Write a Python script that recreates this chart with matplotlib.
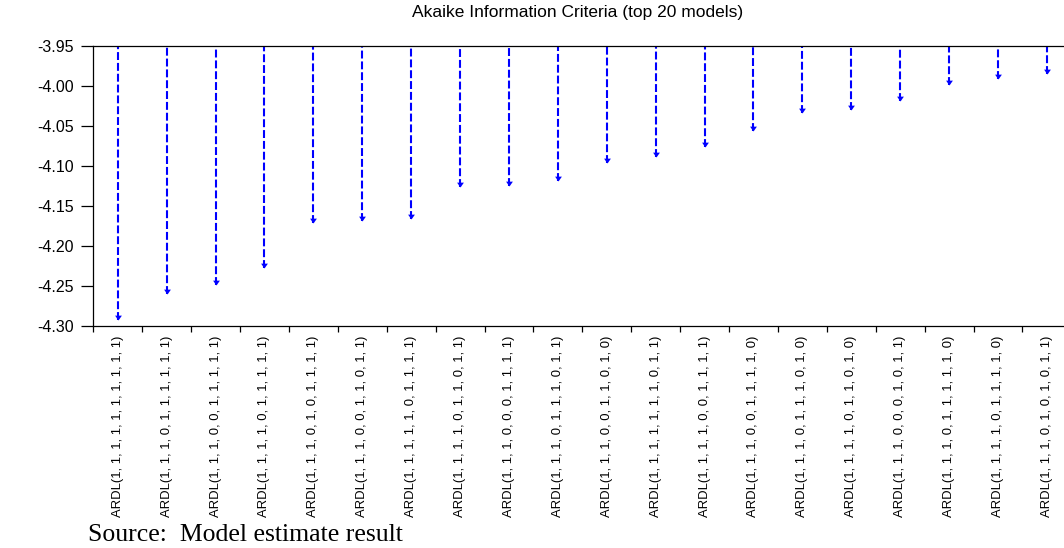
import matplotlib
matplotlib.use("Agg")
import matplotlib.pyplot as plt
from matplotlib import font_manager
from matplotlib.path import Path
from matplotlib.ticker import FixedLocator, FormatStrFormatter

# top 20 ARDL specifications and their AIC
models = [
    "ARDL(1, 1, 1, 1, 1, 1, 1, 1, 1, 1)",
    "ARDL(1, 1, 1, 0, 1, 1, 1, 1, 1, 1)",
    "ARDL(1, 1, 1, 0, 0, 1, 1, 1, 1, 1)",
    "ARDL(1, 1, 1, 1, 0, 1, 1, 1, 1, 1)",
    "ARDL(1, 1, 1, 0, 1, 0, 1, 1, 1, 1)",
    "ARDL(1, 1, 1, 0, 0, 1, 1, 0, 1, 1)",
    "ARDL(1, 1, 1, 1, 1, 0, 1, 1, 1, 1)",
    "ARDL(1, 1, 1, 1, 0, 1, 1, 0, 1, 1)",
    "ARDL(1, 1, 1, 0, 0, 0, 1, 1, 1, 1)",
    "ARDL(1, 1, 1, 0, 1, 1, 1, 0, 1, 1)",
    "ARDL(1, 1, 1, 0, 0, 1, 1, 0, 1, 0)",
    "ARDL(1, 1, 1, 1, 1, 1, 1, 0, 1, 1)",
    "ARDL(1, 1, 1, 1, 0, 0, 1, 1, 1, 1)",
    "ARDL(1, 1, 1, 0, 0, 1, 1, 1, 1, 0)",
    "ARDL(1, 1, 1, 0, 1, 1, 1, 0, 1, 0)",
    "ARDL(1, 1, 1, 1, 0, 1, 1, 0, 1, 0)",
    "ARDL(1, 1, 1, 0, 0, 0, 1, 0, 1, 1)",
    "ARDL(1, 1, 1, 0, 1, 1, 1, 1, 1, 0)",
    "ARDL(1, 1, 1, 1, 0, 1, 1, 1, 1, 0)",
    "ARDL(1, 1, 1, 0, 1, 0, 1, 0, 1, 1)",
]
aic = [-4.293, -4.261, -4.249, -4.228, -4.172, -4.169, -4.167, -4.127,
       -4.125, -4.119, -4.097, -4.089, -4.077, -4.057, -4.034, -4.030,
       -4.019, -3.999, -3.992, -3.985]
y_ticks = [-3.95, -4.00, -4.05, -4.10, -4.15, -4.20, -4.25, -4.30]

installed = {f.name for f in font_manager.fontManager.ttflist}
narrow = "Liberation Sans Narrow" in installed
label_font = "Liberation Sans Narrow" if narrow else "Liberation Sans"
label_size = 11.4 if narrow else 9.4

plt.rcParams["font.family"] = ["Liberation Sans", "DejaVu Sans"]

fig = plt.figure(figsize=(10.64, 5.48), dpi=100)
ax = fig.add_axes([0.0877, 0.4057, 0.9192, 0.5109])

n = len(models)
x = list(range(n))
top = y_ticks[0]
blue = "#0000ff"

# dashed drop lines from the top of the frame down to each AIC value
ax.vlines(x, aic, top, colors=blue, linewidth=1.5,
          linestyles=(0, (3.8, 1.4)))
# arrow head with its tip on the value
head = Path([(-0.7, 1.0), (0.7, 1.0), (0.0, 0.0), (-0.7, 1.0)],
            [Path.MOVETO, Path.LINETO, Path.LINETO, Path.CLOSEPOLY])
ax.plot(x, aic, linestyle="none", marker=head, markersize=7,
        color=blue, markeredgewidth=0)

ax.set_xlim(-0.5, n - 0.5)
ax.set_ylim(y_ticks[-1], y_ticks[0])
ax.set_yticks(y_ticks)
ax.yaxis.set_major_formatter(FormatStrFormatter("%.2f"))
ax.tick_params(axis="y", direction="out", length=9, width=0.9, pad=5,
               labelsize=11.5)

ax.set_xticks(x)
ax.set_xticklabels(models, rotation=90, fontfamily=label_font,
                   fontsize=label_size)
ax.xaxis.set_minor_locator(FixedLocator([i - 0.5 for i in range(n + 1)]))
ax.tick_params(axis="x", which="major", length=0, pad=7)
ax.tick_params(axis="x", which="minor", direction="out", length=4.5,
               width=0.9)

for side in ["left", "top", "bottom"]:
    ax.spines[side].set_linewidth(0.9)
ax.spines["right"].set_visible(False)

fig.text(0.5428, 1 - 17 / 548, "Akaike Information Criteria (top 20 models)",
         ha="center", va="baseline", fontsize=12.5)
fig.text(0.0827, 1 - 541 / 548, "Source:  Model estimate result",
         ha="left", va="baseline", fontsize=18.5,
         fontfamily=["Liberation Serif", "DejaVu Serif"])

fig.savefig("out.png", dpi=100)
